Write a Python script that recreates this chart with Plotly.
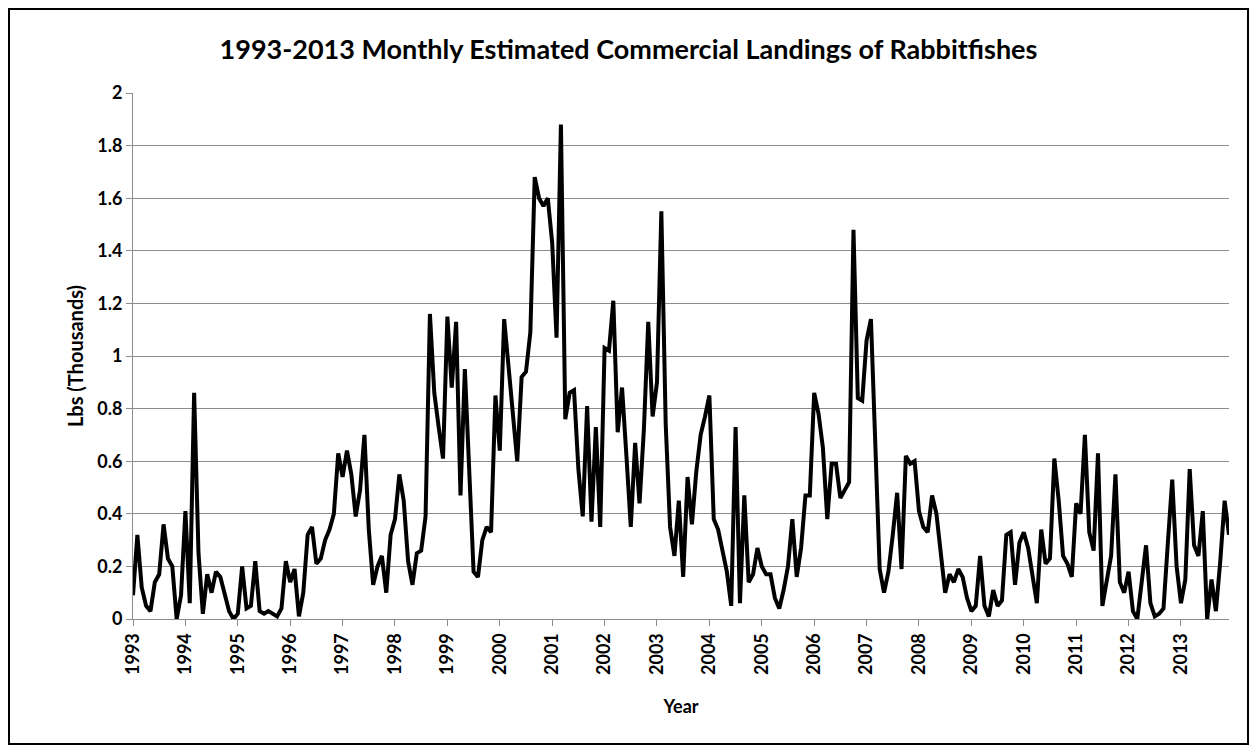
import plotly.graph_objects as go

# Monthly landings (thousands of lbs), Jan 1993 - Dec 2013
years = list(range(1993, 2014))
y1993 = [0.09, 0.32, 0.12, 0.05, 0.03, 0.14, 0.17, 0.36, 0.23, 0.20, 0.00, 0.09]
y1994 = [0.41, 0.06, 0.86, 0.25, 0.02, 0.17, 0.10, 0.18, 0.16, 0.10, 0.03, 0.00]
y1995 = [0.02, 0.20, 0.04, 0.05, 0.22, 0.03, 0.02, 0.03, 0.02, 0.01, 0.04, 0.22]
y1996 = [0.14, 0.19, 0.01, 0.10, 0.32, 0.35, 0.21, 0.23, 0.30, 0.34, 0.40, 0.63]
y1997 = [0.54, 0.64, 0.55, 0.39, 0.49, 0.70, 0.34, 0.13, 0.20, 0.24, 0.10, 0.32]
y1998 = [0.38, 0.55, 0.45, 0.22, 0.13, 0.25, 0.26, 0.39, 1.16, 0.86, 0.73, 0.61]
y1999 = [1.15, 0.88, 1.13, 0.47, 0.95, 0.55, 0.18, 0.16, 0.30, 0.35, 0.33, 0.85]
y2000 = [0.64, 1.14, 0.97, 0.80, 0.60, 0.92, 0.94, 1.09, 1.68, 1.60, 1.57, 1.60]
y2001 = [1.43, 1.07, 1.88, 0.76, 0.86, 0.87, 0.57, 0.39, 0.81, 0.37, 0.73, 0.35]
y2002 = [1.03, 1.02, 1.21, 0.71, 0.88, 0.62, 0.35, 0.67, 0.44, 0.72, 1.13, 0.77]
y2003 = [0.90, 1.55, 0.74, 0.35, 0.24, 0.45, 0.16, 0.54, 0.36, 0.56, 0.70, 0.77]
y2004 = [0.85, 0.38, 0.34, 0.26, 0.18, 0.05, 0.73, 0.06, 0.47, 0.14, 0.17, 0.27]
y2005 = [0.20, 0.17, 0.17, 0.08, 0.04, 0.11, 0.20, 0.38, 0.16, 0.27, 0.47, 0.47]
y2006 = [0.86, 0.78, 0.65, 0.38, 0.59, 0.59, 0.46, 0.49, 0.52, 1.48, 0.84, 0.83]
y2007 = [1.06, 1.14, 0.62, 0.19, 0.10, 0.18, 0.32, 0.48, 0.19, 0.62, 0.59, 0.60]
y2008 = [0.41, 0.35, 0.33, 0.47, 0.40, 0.26, 0.10, 0.17, 0.14, 0.19, 0.16, 0.08]
y2009 = [0.03, 0.05, 0.24, 0.05, 0.01, 0.11, 0.05, 0.07, 0.32, 0.33, 0.13, 0.29]
y2010 = [0.33, 0.27, 0.16, 0.06, 0.34, 0.21, 0.23, 0.61, 0.45, 0.24, 0.21, 0.16]
y2011 = [0.44, 0.40, 0.70, 0.33, 0.26, 0.63, 0.05, 0.15, 0.24, 0.55, 0.14, 0.10]
y2012 = [0.18, 0.03, 0.00, 0.14, 0.28, 0.06, 0.01, 0.02, 0.04, 0.29, 0.53, 0.20]
y2013 = [0.06, 0.15, 0.57, 0.28, 0.24, 0.41, 0.00, 0.15, 0.03, 0.22, 0.45, 0.32]

landings = (y1993 + y1994 + y1995 + y1996 + y1997 + y1998 + y1999 + y2000 + y2001
            + y2002 + y2003 + y2004 + y2005 + y2006 + y2007 + y2008 + y2009
            + y2010 + y2011 + y2012 + y2013)
months = list(range(len(landings)))

font = "Lato, 'Open Sans', sans-serif"
W, H = 1241, 737          # page body adds an 8px margin
L, R, T, B = 125, 20, 85, 126
pw, ph = W - L - R, H - T - B

fig = go.Figure()
fig.add_trace(go.Scatter(x=months, y=landings, mode="lines",
                         line=dict(color="black", width=4), showlegend=False))

fig.update_layout(
    width=W, height=H,
    margin=dict(l=L, r=R, t=T, b=B),
    paper_bgcolor="white", plot_bgcolor="white",
    font=dict(family=font, color="black"),
    title=dict(text="1993-2013 Monthly Estimated Commercial Landings of Rabbitfishes",
               x=0.5, xanchor="center", y=1 - 42 / H, yanchor="middle",
               font=dict(size=27, family=font, weight="bold")),
    xaxis=dict(range=[0, len(landings) - 1], tickvals=[12 * i for i in range(len(years))],
               ticktext=[str(y) for y in years], tickangle=-90,
               tickfont=dict(size=18, family=font, weight="bold"), showgrid=False, zeroline=False,
               showline=True, linecolor="#8c8c8c", linewidth=1,
               ticks="outside", ticklen=6, tickcolor="#8c8c8c",
               title=dict(text="Year", font=dict(size=18, family=font, weight="bold"), standoff=26)),
    yaxis=dict(range=[0, 2], dtick=0.2, tickfont=dict(size=18, family=font, weight="bold"),
               showgrid=True, gridcolor="#8c8c8c", gridwidth=1, zeroline=False,
               showline=True, linecolor="#8c8c8c", linewidth=1,
               ticks="outside", ticklen=6, tickcolor="#8c8c8c",
               title=dict(text="Lbs (Thousands)", font=dict(size=20, family=font, weight="bold"), standoff=8)),
)

# outer chart border
fig.add_shape(type="rect", xref="paper", yref="paper",
              x0=(-L + 1) / pw, x1=1 + (R - 1) / pw,
              y0=(-B + 1) / ph, y1=1 + (T - 1) / ph,
              line=dict(color="black", width=2))

fig.write_html("out.html")
